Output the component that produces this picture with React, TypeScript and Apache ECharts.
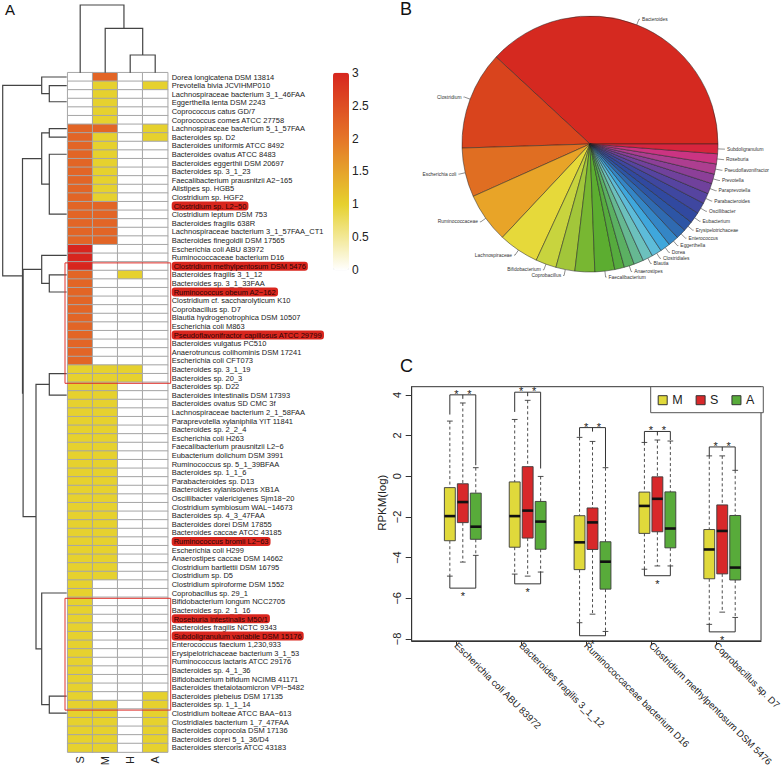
import React, { useEffect, useRef } from 'react';
import * as echarts from 'echarts';

// ---------- Panel A: heatmap ----------
const colNames = ['S', 'M', 'H', 'A'];
const rowNames = [
  'Dorea longicatena DSM 13814', 'Prevotella bivia JCVIHMP010', 'Lachnospiraceae bacterium 3_1_46FAA',
  'Eggerthella lenta DSM 2243', 'Coprococcus catus GD/7', 'Coprococcus comes ATCC 27758',
  'Lachnospiraceae bacterium 5_1_57FAA', 'Bacteroides sp. D2', 'Bacteroides uniformis ATCC 8492',
  'Bacteroides ovatus ATCC 8483', 'Bacteroides eggerthii DSM 20697', 'Bacteroides sp. 3_1_23',
  'Faecalibacterium prausnitzii A2−165', 'Alistipes sp. HGB5', 'Clostridium sp. HGF2',
  'Clostridium sp. L2−50', 'Clostridium leptum DSM 753', 'Bacteroides fragilis 638R',
  'Lachnospiraceae bacterium 3_1_57FAA_CT1', 'Bacteroides finegoldii DSM 17565', 'Escherichia coli ABU 83972',
  'Ruminococcaceae bacterium D16', 'Clostridium methylpentosum DSM 5476', 'Bacteroides fragilis 3_1_12',
  'Bacteroides sp. 3_1_33FAA', 'Ruminococcus obeum A2−162', 'Clostridium cf. saccharolyticum K10',
  'Coprobacillus sp. D7', 'Blautia hydrogenotrophica DSM 10507', 'Escherichia coli M863',
  'Pseudoflavonifractor capillosus ATCC 29799', 'Bacteroides vulgatus PC510', 'Anaerotruncus colihominis DSM 17241',
  'Escherichia coli CFT073', 'Bacteroides sp. 3_1_19', 'Bacteroides sp. 20_3',
  'Bacteroides sp. D22', 'Bacteroides intestinalis DSM 17393', 'Bacteroides ovatus SD CMC 3f',
  'Lachnospiraceae bacterium 2_1_58FAA', 'Paraprevotella xylaniphila YIT 11841', 'Bacteroides sp. 2_2_4',
  'Escherichia coli H263', 'Faecalibacterium prausnitzii L2−6', 'Eubacterium dolichum DSM 3991',
  'Ruminococcus sp. 5_1_39BFAA', 'Bacteroides sp. 1_1_6', 'Parabacteroides sp. D13',
  'Bacteroides xylanisolvens XB1A', 'Oscillibacter valericigenes Sjm18−20', 'Clostridium symbiosum WAL−14673',
  'Bacteroides sp. 4_3_47FAA', 'Bacteroides dorei DSM 17855', 'Bacteroides caccae ATCC 43185',
  'Ruminococcus bromii L2−63', 'Escherichia coli H299', 'Anaerostipes caccae DSM 14662',
  'Clostridium bartlettii DSM 16795', 'Clostridium sp. D5', 'Clostridium spiroforme DSM 1552',
  'Coprobacillus sp. 29_1', 'Bifidobacterium longum NCC2705', 'Bacteroides sp. 2_1_16',
  'Roseburia intestinalis M50/1', 'Bacteroides fragilis NCTC 9343', 'Subdoligranulum variabile DSM 15176',
  'Enterococcus faecium 1,230,933', 'Erysipelotrichaceae bacterium 3_1_53', 'Ruminococcus lactaris ATCC 29176',
  'Bacteroides sp. 4_1_36', 'Bifidobacterium bifidum NCIMB 41171', 'Bacteroides thetaiotaomicron VPI−5482',
  'Bacteroides plebeius DSM 17135', 'Bacteroides sp. 1_1_14', 'Clostridium bolteae ATCC BAA−613',
  'Clostridiales bacterium 1_7_47FAA', 'Bacteroides coprocola DSM 17136', 'Bacteroides dorei 5_1_36/D4',
  'Bacteroides stercoris ATCC 43183',
];
const highlightedRows = [
  'Clostridium sp. L2−50', 'Clostridium methylpentosum DSM 5476', 'Ruminococcus obeum A2−162',
  'Pseudoflavonifractor capillosus ATCC 29799', 'Ruminococcus bromii L2−63', 'Roseburia intestinalis M50/1',
  'Subdoligranulum variabile DSM 15176',
];
const colS = [
  0, 0, 0, 0, 0, 0, 2.2, 2.2, 2.2, 2.2,
  2.2, 2.2, 2.2, 2.2, 2.2, 2.2, 2.2, 2.2, 2.2, 2.2,
  3, 3, 3, 2.2, 2.2, 2.2, 2.2, 2.2, 2.2, 2.2,
  2.2, 2.2, 2.2, 2.2, 1, 1, 1, 1, 1, 1,
  1, 1, 1, 1, 1, 1, 1, 1, 1, 1,
  1, 1, 1, 1, 1, 1, 1, 1, 1, 1,
  1, 1, 1, 1, 1, 1, 1, 1, 1, 1,
  1, 1, 1, 1, 1, 1, 1, 1, 1,
];
const colM = [
  2.2, 1, 1, 1, 1, 1, 2.2, 1, 1, 1,
  1, 1, 1, 1, 1, 2.2, 2.2, 2.2, 2.2, 2.2,
  0, 0, 0, 0, 0, 0, 0, 0, 0, 0,
  0, 0, 0, 0, 1, 1, 1, 1, 1, 1,
  1, 1, 1, 1, 1, 1, 1, 1, 1, 1,
  1, 1, 1, 1, 1, 1, 1, 1, 1, 0,
  0, 0, 0, 0, 0, 0, 0, 0, 0, 0,
  0, 0, 0, 1, 1, 1, 1, 1, 1,
];
const colH = [
  0, 0, 0, 0, 0, 0, 0, 0, 0, 0,
  0, 0, 0, 0, 0, 0, 0, 0, 0, 0,
  0, 0, 0, 1, 0, 0, 0, 0, 0, 0,
  0, 0, 0, 0, 1, 1, 0, 0, 0, 0,
  0, 0, 0, 0, 0, 0, 0, 0, 0, 0,
  0, 0, 0, 0, 0, 0, 0, 0, 0, 0,
  0, 0, 0, 0, 0, 0, 0, 0, 0, 0,
  0, 0, 0, 0, 0, 0, 0, 0, 0,
];
const colA = [
  0, 1, 0, 0, 0, 0, 1, 1, 0, 0,
  0, 0, 0, 0, 0, 0, 0, 0, 0, 0,
  0, 0, 0, 0, 0, 0, 0, 0, 0, 0,
  0, 0, 0, 0, 0, 0, 0, 0, 0, 0,
  0, 0, 0, 0, 0, 0, 0, 0, 0, 0,
  0, 0, 0, 0, 0, 0, 0, 0, 0, 0,
  0, 0, 0, 0, 0, 0, 0, 0, 0, 0,
  0, 0, 1, 1, 1, 1, 1, 1, 1,
];
const colorbarTicks = [0, 0.5, 1, 1.5, 2, 2.5, 3];
const heatColors = ['#ffffff', '#e6d12e', '#e57528', '#d7261e'];
// boxed row ranges (0-based, inclusive)
const boxedRanges = [[22, 35], [61, 73]];

// dendrograms: leaf index or [left, right, height]
type Tree = number | [Tree, Tree, number];
const chain = (a: number, b: number): Tree => (a === b ? a : [a, chain(a + 1, b), 0]);
const rowTree: Tree = [
  [0, [1, chain(2, 5), 17.4], 25],
  [
    [[6, 7, 17.4], [chain(8, 14), chain(15, 19), 17.4], 25],
    [
      [chain(20, 22), [23, chain(24, 33), 17.4], 25],
      [[chain(34, 35), chain(36, 58), 17.4], [chain(59, 71), [72, chain(73, 78), 17.4], 25], 30.7],
      43.6,
    ],
    44.2,
  ],
  64,
];
const colTree: Tree = [0, [1, [2, 3, 17.7], 44.4], 67.7];

// ---------- Panel B: pie ----------
const pieNames = [
  'Bacteroides', 'Clostridium', 'Escherichia coli', 'Ruminococcaceae', 'Lachnospiraceae', 'Bifidobacterium',
  'Coprobacillus', 'Coprococcus', 'Faecalibacterium', 'Alistipes', 'Anaerostipes', 'Anaerotruncus', 'Blautia',
  'Clostridiales', 'Dorea', 'Eggerthella', 'Enterococcus', 'Erysipelotrichaceae', 'Eubacterium', 'Oscillibacter',
  'Parabacteroides', 'Paraprevotella', 'Prevotella', 'Pseudoflavonifractor', 'Roseburia', 'Subdoligranulum',
];
const pieValues = [
  38.1, 12.4, 6.2, 6.3, 5.1, 2.6, 2.4, 2.5, 2.5, 1.22, 1.28, 1.22, 1.28,
  1.25, 1.28, 1.33, 1.28, 1.28, 1.39, 1.42, 1.33, 1.33, 1.22, 1.28, 1.28, 1.22,
];
const pieColors = [
  '#d52920', '#d9441d', '#e06e22', '#e8a428', '#e6d93a', '#c8d43e', '#a2c63a', '#78b732', '#5cad30',
  '#56ab3e', '#5bb062', '#66b892', '#6cc1bd', '#5dbcd9', '#3fa7dc', '#3486c6', '#2f6ab1', '#2d55a5',
  '#3149a0', '#3f47a0', '#5644a0', '#70419c', '#8c3f98', '#ad3e90', '#cb3482', '#d7253e',
];

// ---------- Panel C: boxplots ----------
const groupNames = [
  'Escherichia coli ABU 83972', 'Bacteroides fragilis 3_1_12', 'Ruminococcaceae bacterium D16',
  'Clostridium methylpentosum DSM 5476', 'Coprobacillus sp. D7',
];
const groupTicks = [1.5, 6.5, 11.5, 16.5, 21.5];
const yTicks = [-8, -6, -4, -2, 0, 2, 4];
// [position, min, Q1, median, Q3, max]
const boxM = [
  [1, -4.91, -3.17, -1.96, -0.56, 2.71],
  [6, -4.81, -3.49, -1.96, -0.28, 2.79],
  [11, -7.2, -4.59, -3.25, -1.94, 1.91],
  [16, -4.57, -2.81, -1.46, -0.78, 1.66],
  [21, -7.28, -5.04, -3.6, -2.62, 1.0],
];
const boxS = [
  [2, -4.22, -2.28, -1.27, -0.37, 3.6],
  [7, -4.91, -3.04, -1.69, 0.47, 3.73],
  [12, -6.78, -3.6, -2.27, -1.56, 1.71],
  [17, -4.41, -2.73, -1.11, -0.03, 1.78],
  [22, -6.68, -4.8, -2.69, -1.41, 1.0],
];
const boxA = [
  [3, -3.89, -3.1, -2.48, -0.83, 0.42],
  [8, -4.71, -3.59, -2.23, -1.24, -0.01],
  [13, -7.63, -5.55, -4.2, -3.22, 0.42],
  [18, -4.41, -3.52, -2.57, -0.77, 1.73],
  [23, -6.94, -5.1, -4.49, -1.93, 0.29],
];
// [left position, bracket level, left end, right end, kind 0=top 1=bottom]
const sigBrackets = [
  [1, 4.0, 3.03, 0.54, 0], [6, 4.13, 3.16, 0.38, 0], [11, 2.39, 1.94, 0.46, 0],
  [16, 2.2, 1.66, 1.78, 0], [21, 1.44, 1.0, 0.29, 0],
  [1, -5.5, -4.91, -3.89, 1], [6, -5.29, -4.81, -4.71, 1], [11, -7.84, -7.2, -7.63, 1],
  [16, -4.89, -4.57, -4.41, 1], [21, -7.65, -7.28, -6.94, 1],
];

const FONT = 'Liberation Sans, Arial, Helvetica, sans-serif';

function layoutTree(t: Tree, out: number[][]): { pos: number; h: number } {
  if (typeof t === 'number') return { pos: t, h: 0 };
  const L = layoutTree(t[0], out);
  const R = layoutTree(t[1], out);
  if (t[2] > 0) out.push([t[2], L.pos, L.h, R.pos, R.h]);
  return { pos: (L.pos + R.pos) / 2, h: t[2] };
}

function buildOption() {
  const heatData: number[][] = [];
  const cols = [colS, colM, colH, colA];
  cols.forEach((col, ci) => col.forEach((v, ri) => heatData.push([ci, ri, v])));

  const rowSegs: number[][] = [];
  layoutTree(rowTree, rowSegs);
  const colSegs: number[][] = [];
  layoutTree(colTree, colSegs);

  const hl = new Set(highlightedRows);
  const lineStroke = '#444';

  const boxRender = (params: any, api: any) => {
    const x = api.value(0);
    const pMin = api.coord([x, api.value(1)]);
    const pQ1 = api.coord([x, api.value(2)]);
    const pMed = api.coord([x, api.value(3)]);
    const pQ3 = api.coord([x, api.value(4)]);
    const pMax = api.coord([x, api.value(5)]);
    const unit = api.size([1, 0])[0];
    const hw = unit * 0.42;
    const sw = unit * 0.22;
    const cx = pMed[0];
    const stroke = '#3a3a3a';
    const dashed = { stroke, lineWidth: 0.9, lineDash: [3, 2.5] };
    const solid = { stroke, lineWidth: 0.9 };
    return {
      type: 'group',
      children: [
        { type: 'line', shape: { x1: cx, y1: pMax[1], x2: cx, y2: pQ3[1] }, style: dashed },
        { type: 'line', shape: { x1: cx, y1: pQ1[1], x2: cx, y2: pMin[1] }, style: dashed },
        { type: 'line', shape: { x1: cx - sw, y1: pMax[1], x2: cx + sw, y2: pMax[1] }, style: solid },
        { type: 'line', shape: { x1: cx - sw, y1: pMin[1], x2: cx + sw, y2: pMin[1] }, style: solid },
        {
          type: 'rect',
          shape: { x: cx - hw, y: pQ3[1], width: hw * 2, height: pQ1[1] - pQ3[1] },
          style: { fill: api.visual('color'), stroke, lineWidth: 0.9 },
        },
        { type: 'line', shape: { x1: cx - hw, y1: pMed[1], x2: cx + hw, y2: pMed[1] }, style: { stroke: '#111', lineWidth: 2.6 } },
      ],
    };
  };

  const bracketRender = (params: any, api: any) => {
    const p = api.value(0);
    const lvl = api.value(1);
    const kind = api.value(4);
    const a = api.coord([p, api.value(2)]);
    const b = api.coord([p, lvl]);
    const c = api.coord([p + 2, lvl]);
    const d = api.coord([p + 2, api.value(3)]);
    const mid = api.coord([p + 1, lvl]);
    const children: any[] = [
      { type: 'polyline', shape: { points: [a, b, c, d] }, style: { stroke: '#333', lineWidth: 1, fill: 'none' } },
    ];
    const star = (x: number, y: number) => ({
      type: 'text', x, y,
      style: { text: '*', fontSize: 11, fontFamily: FONT, fill: '#222', align: 'center', verticalAlign: 'middle' },
    });
    if (kind === 0) {
      children.push({ type: 'line', shape: { x1: mid[0], y1: mid[1], x2: mid[0], y2: mid[1] + 4 }, style: { stroke: '#333', lineWidth: 1 } });
      const s1 = api.coord([p + 0.5, lvl]);
      const s2 = api.coord([p + 1.5, lvl]);
      children.push(star(s1[0], s1[1] - 1));
      children.push(star(s2[0], s2[1] - 1));
    } else {
      children.push(star(mid[0], mid[1] + 8));
    }
    return { type: 'group', children };
  };

  return {
    animation: false,
    backgroundColor: '#ffffff',
    textStyle: { fontFamily: FONT },
    graphic: [
      { type: 'text', left: 5, top: 2, style: { text: 'A', fontSize: 15, fill: '#111', fontFamily: FONT } },
      { type: 'text', left: 400, top: 0, style: { text: 'B', fontSize: 18, fill: '#111', fontFamily: FONT } },
      { type: 'text', left: 400, top: 357, style: { text: 'C', fontSize: 18, fill: '#111', fontFamily: FONT } },
    ],
    grid: [
      { left: 67.7, top: 72.7, width: 100, height: 679.4 },
      { left: 2.7, top: 72.7, width: 64, height: 679.4 },
      { left: 67.7, top: 5, width: 100, height: 67.7 },
      { left: 333, top: 72.7, width: 16, height: 197.5 },
      { left: 411.7, top: 386.7, width: 353.3, height: 258.3, show: true, borderColor: '#333', borderWidth: 1, backgroundColor: 'transparent' },
    ],
    xAxis: [
      {
        type: 'category', gridIndex: 0, data: colNames, position: 'bottom',
        axisLine: { show: false }, axisTick: { show: false },
        axisLabel: { rotate: 90, fontSize: 11, margin: 4, color: '#222', interval: 0 },
      },
      { type: 'value', gridIndex: 1, min: 0, max: 64, inverse: true, show: false },
      { type: 'value', gridIndex: 2, min: -0.5, max: 3.5, show: false },
      { type: 'value', gridIndex: 3, show: false },
      {
        type: 'value', gridIndex: 4, min: -1.94, max: 24.99, splitLine: { show: false },
        position: 'bottom',
        axisLine: { show: true, onZero: false, lineStyle: { color: '#333' } },
        axisTick: { show: true, length: 4, customValues: groupTicks, lineStyle: { color: '#333' } },
        axisLabel: {
          customValues: groupTicks, rotate: -45, fontSize: 9.6, margin: 3, color: '#222',
          formatter: (v: number) => groupNames[Math.round((v - 1.5) / 5)] ?? '',
        },
      },
    ],
    yAxis: [
      {
        type: 'category', gridIndex: 0, data: rowNames, inverse: true, position: 'right',
        axisLine: { show: false }, axisTick: { show: false },
        axisLabel: {
          interval: 0, fontSize: 7.5, margin: 4, color: '#222',
          formatter: (v: string) => (hl.has(v) ? `{hl|${v}}` : v),
          rich: { hl: { backgroundColor: '#d9261e', borderRadius: 3, padding: [1, 2, 0, 2], color: '#2a0505', fontSize: 7.5 } },
        },
      },
      { type: 'value', gridIndex: 1, min: -0.5, max: 78.5, inverse: true, show: false },
      { type: 'value', gridIndex: 2, min: 0, max: 67.7, show: false },
      {
        type: 'value', gridIndex: 3, min: 0, max: 3, interval: 0.5, position: 'right',
        axisLine: { show: false }, axisTick: { show: false }, splitLine: { show: false },
        axisLabel: { fontSize: 12, margin: 3, color: '#222', customValues: colorbarTicks },
      },
      {
        type: 'value', gridIndex: 4, min: -8.09, max: 4.4, splitLine: { show: false },
        position: 'left',
        axisLine: { show: true, onZero: false, lineStyle: { color: '#333' } },
        axisTick: { show: true, length: 6, customValues: yTicks, lineStyle: { color: '#333' } },
        axisLabel: {
          customValues: yTicks, rotate: 90, fontSize: 11, margin: 9, color: '#222',
          formatter: (v: number) => (v < 0 ? '−' + Math.abs(v) : String(v)),
        },
        name: 'RPKM(log)', nameLocation: 'middle', nameGap: 24,
        nameTextStyle: { fontSize: 11.5, color: '#222', padding: [0, 0, 0, 22] },
      },
    ],
    visualMap: {
      type: 'continuous', min: 0, max: 3, seriesIndex: 0, orient: 'vertical',
      left: 333, top: 72.7, itemWidth: 16, itemHeight: 197.5, padding: 0,
      calculable: false, hoverLink: false, inRange: { color: heatColors },
    },
    legend: {
      data: ['M', 'S', 'A'], left: 650.7, top: 386.7, orient: 'horizontal',
      padding: [7, 9, 6, 7], itemWidth: 9, itemHeight: 9, itemGap: 13, icon: 'rect',
      backgroundColor: '#fff', borderColor: '#555', borderWidth: 1, selectedMode: false,
      textStyle: { fontSize: 12.5, color: '#222' },
      itemStyle: { borderColor: '#333', borderWidth: 1 },
    },
    series: [
      {
        type: 'heatmap', xAxisIndex: 0, yAxisIndex: 0, data: heatData, silent: true,
        itemStyle: { borderColor: '#a6a6a6', borderWidth: 1 }, emphasis: { disabled: true },
      },
      {
        type: 'custom', xAxisIndex: 1, yAxisIndex: 1, data: rowSegs, silent: true,
        itemStyle: { color: lineStroke },
        renderItem: (params: any, api: any) => {
          const h = api.value(0);
          const pts = [
            api.coord([api.value(2), api.value(1)]), api.coord([h, api.value(1)]),
            api.coord([h, api.value(3)]), api.coord([api.value(4), api.value(3)]),
          ];
          return { type: 'polyline', shape: { points: pts }, style: { stroke: lineStroke, lineWidth: 1.2, fill: 'none' } };
        },
      },
      {
        type: 'custom', xAxisIndex: 2, yAxisIndex: 2, data: colSegs, silent: true,
        itemStyle: { color: lineStroke },
        renderItem: (params: any, api: any) => {
          const h = api.value(0);
          const pts = [
            api.coord([api.value(1), api.value(2)]), api.coord([api.value(1), h]),
            api.coord([api.value(3), h]), api.coord([api.value(3), api.value(4)]),
          ];
          return { type: 'polyline', shape: { points: pts }, style: { stroke: lineStroke, lineWidth: 1.2, fill: 'none' } };
        },
      },
      {
        type: 'custom', xAxisIndex: 0, yAxisIndex: 0, data: boxedRanges, silent: true, z: 5,
        itemStyle: { color: '#e0302a' },
        renderItem: (params: any, api: any) => {
          const band = api.size([1, 1]);
          const top = api.coord([0, api.value(0)]);
          const bot = api.coord([3, api.value(1)]);
          const x0 = top[0] - band[0] / 2 - 2.7;
          const x1 = bot[0] + band[0] / 2 + 3;
          const y0 = top[1] - band[1] / 2 + 1;
          const y1 = bot[1] + band[1] / 2 + 1;
          return { type: 'rect', shape: { x: x0, y: y0, width: x1 - x0, height: y1 - y0 }, style: { fill: 'none', stroke: '#e0302a', lineWidth: 1 } };
        },
      },
      {
        type: 'pie', center: [590, 144], radius: 128, startAngle: 0, clockwise: false,
        avoidLabelOverlap: false, silent: true,
        data: pieNames.map((n, i) => ({ name: n, value: pieValues[i], itemStyle: { color: pieColors[i] } })),
        itemStyle: { borderColor: '#222', borderWidth: 0.5 },
        label: { show: true, position: 'outside', fontSize: 4.9, color: '#333', distanceToLabelLine: 2 },
        labelLine: { show: true, length: 6, length2: 1, lineStyle: { color: '#444', width: 0.6 } },
        emphasis: { disabled: true },
      },
      { name: 'M', type: 'custom', xAxisIndex: 4, yAxisIndex: 4, data: boxM, itemStyle: { color: '#e0d93b' }, renderItem: boxRender, silent: true },
      { name: 'S', type: 'custom', xAxisIndex: 4, yAxisIndex: 4, data: boxS, itemStyle: { color: '#d8282a' }, renderItem: boxRender, silent: true },
      { name: 'A', type: 'custom', xAxisIndex: 4, yAxisIndex: 4, data: boxA, itemStyle: { color: '#58ab3a' }, renderItem: boxRender, silent: true },
      {
        type: 'custom', xAxisIndex: 4, yAxisIndex: 4, data: sigBrackets, renderItem: bracketRender, silent: true,
        itemStyle: { color: '#222' },
      },
    ],
  };
}

export default function App() {
  const ref = useRef<HTMLDivElement>(null);
  useEffect(() => {
    if (!ref.current) return;
    const chart = echarts.init(ref.current, null, { renderer: 'svg', width: 784, height: 769 });
    chart.setOption(buildOption() as any);
    return () => chart.dispose();
  }, []);
  return (
    <div
      ref={ref}
      style={{ position: 'absolute', left: 0, top: 0, width: 784, height: 769, background: '#fff' }}
    />
  );
}
